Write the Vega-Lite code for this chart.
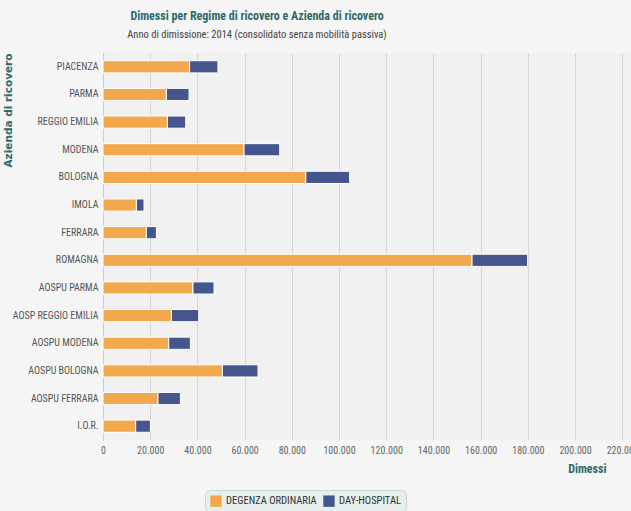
{
  "$schema": "https://vega.github.io/schema/vega-lite/v6.json",
  "autosize": {"type": "none"},
  "width": 528,
  "height": 387,
  "padding": {"left": 103, "top": 53, "right": 0, "bottom": 71},
  "background": "#f5f5f5",
  "title": {
    "text": "Dimessi per Regime di ricovero e Azienda di ricovero",
    "subtitle": "Anno di dimissione: 2014 (consolidato senza mobilità passiva)",
    "anchor": "middle",
    "frame": "group",
    "dx": -110,
    "offset": 12,
    "font": "Roboto Condensed, sans-serif",
    "fontSize": 12,
    "fontWeight": "bold",
    "color": "#2b6b6b",
    "subtitleFont": "Roboto Condensed, sans-serif",
    "subtitleFontSize": 10.5,
    "subtitleFontWeight": 400,
    "subtitleColor": "#444444",
    "subtitlePadding": 7
  },
  "data": {
    "values": [
      {"azienda": "PIACENZA", "regime": "DEGENZA ORDINARIA", "dimessi": 36700},
      {"azienda": "PIACENZA", "regime": "DAY-HOSPITAL", "dimessi": 12000},
      {"azienda": "PARMA", "regime": "DEGENZA ORDINARIA", "dimessi": 26850},
      {"azienda": "PARMA", "regime": "DAY-HOSPITAL", "dimessi": 9600},
      {"azienda": "REGGIO EMILIA", "regime": "DEGENZA ORDINARIA", "dimessi": 27300},
      {"azienda": "REGGIO EMILIA", "regime": "DAY-HOSPITAL", "dimessi": 7740},
      {"azienda": "MODENA", "regime": "DEGENZA ORDINARIA", "dimessi": 59750},
      {"azienda": "MODENA", "regime": "DAY-HOSPITAL", "dimessi": 15120},
      {"azienda": "BOLOGNA", "regime": "DEGENZA ORDINARIA", "dimessi": 85900},
      {"azienda": "BOLOGNA", "regime": "DAY-HOSPITAL", "dimessi": 18600},
      {"azienda": "IMOLA", "regime": "DEGENZA ORDINARIA", "dimessi": 14150},
      {"azienda": "IMOLA", "regime": "DAY-HOSPITAL", "dimessi": 3220},
      {"azienda": "FERRARA", "regime": "DEGENZA ORDINARIA", "dimessi": 18390},
      {"azienda": "FERRARA", "regime": "DAY-HOSPITAL", "dimessi": 4240},
      {"azienda": "ROMAGNA", "regime": "DEGENZA ORDINARIA", "dimessi": 156350},
      {"azienda": "ROMAGNA", "regime": "DAY-HOSPITAL", "dimessi": 23550},
      {"azienda": "AOSPU PARMA", "regime": "DEGENZA ORDINARIA", "dimessi": 38130},
      {"azienda": "AOSPU PARMA", "regime": "DAY-HOSPITAL", "dimessi": 8900},
      {"azienda": "AOSP REGGIO EMILIA", "regime": "DEGENZA ORDINARIA", "dimessi": 28980},
      {"azienda": "AOSP REGGIO EMILIA", "regime": "DAY-HOSPITAL", "dimessi": 11570},
      {"azienda": "AOSPU MODENA", "regime": "DEGENZA ORDINARIA", "dimessi": 27840},
      {"azienda": "AOSPU MODENA", "regime": "DAY-HOSPITAL", "dimessi": 9190},
      {"azienda": "AOSPU BOLOGNA", "regime": "DEGENZA ORDINARIA", "dimessi": 50590},
      {"azienda": "AOSPU BOLOGNA", "regime": "DAY-HOSPITAL", "dimessi": 15080},
      {"azienda": "AOSPU FERRARA", "regime": "DEGENZA ORDINARIA", "dimessi": 23300},
      {"azienda": "AOSPU FERRARA", "regime": "DAY-HOSPITAL", "dimessi": 9490},
      {"azienda": "I.O.R.", "regime": "DEGENZA ORDINARIA", "dimessi": 13850},
      {"azienda": "I.O.R.", "regime": "DAY-HOSPITAL", "dimessi": 6230}
    ]
  },
  "mark": {"type": "bar", "stroke": "#ffffff", "strokeWidth": 1},
  "encoding": {
    "y": {
      "field": "azienda",
      "type": "nominal",
      "sort": ["PIACENZA", "PARMA", "REGGIO EMILIA", "MODENA", "BOLOGNA", "IMOLA", "FERRARA", "ROMAGNA", "AOSPU PARMA", "AOSP REGGIO EMILIA", "AOSPU MODENA", "AOSPU BOLOGNA", "AOSPU FERRARA", "I.O.R."],
      "scale": {"paddingInner": 0.56, "paddingOuter": 0.28},
      "axis": {
        "title": "Azienda di ricovero",
        "titleAngle": -90,
        "titleX": -95,
        "titleY": 0,
        "titleAlign": "right",
        "titleBaseline": "middle",
        "titleFont": "DejaVu Sans, sans-serif",
        "titleFontSize": 10.5,
        "titleFontWeight": "bold",
        "titleColor": "#2b6b6b",
        "labelFont": "Roboto Condensed, sans-serif",
        "labelFontWeight": 400,
        "labelFontSize": 10,
        "labelColor": "#555555",
        "labelPadding": 5,
        "domainColor": "#c0d0e0",
        "ticks": false,
        "grid": false
      }
    },
    "x": {
      "field": "dimessi",
      "type": "quantitative",
      "stack": "zero",
      "scale": {"domain": [0, 223700], "nice": false},
      "axis": {
        "title": "Dimessi",
        "titleX": 503,
        "titleY": 32,
        "titleAlign": "right",
        "titleBaseline": "alphabetic",
        "titleFont": "Roboto Condensed, sans-serif",
        "titleFontSize": 12,
        "titleFontWeight": "bold",
        "titleColor": "#2b6b6b",
        "values": [0, 20000, 40000, 60000, 80000, 100000, 120000, 140000, 160000, 180000, 200000, 220000],
        "format": ",.0f",
        "labelFont": "Roboto Condensed, sans-serif",
        "labelFontSize": 10,
        "labelColor": "#666666",
        "labelPadding": 5,
        "labelFlush": false,
        "domain": false,
        "ticks": false,
        "grid": true,
        "gridColor": "#d4d4d4",
        "gridWidth": 1
      }
    },
    "color": {
      "field": "regime",
      "type": "nominal",
      "sort": ["DEGENZA ORDINARIA", "DAY-HOSPITAL"],
      "scale": {"domain": ["DEGENZA ORDINARIA", "DAY-HOSPITAL"], "range": ["#f2a84c", "#45568e"]},
      "legend": {
        "title": null,
        "orient": "none",
        "legendX": 102,
        "legendY": 437,
        "direction": "horizontal",
        "fillColor": "#e6eeee",
        "strokeColor": "#c9d6d6",
        "cornerRadius": 5,
        "padding": 5,
        "symbolType": "square",
        "symbolSize": 130,
        "symbolStrokeWidth": 0,
        "labelFont": "Roboto Condensed, sans-serif",
        "labelFontSize": 10.5,
        "labelFontWeight": 400,
        "labelColor": "#333333",
        "columnPadding": 6
      }
    },
    "order": {"field": "regime", "sort": "descending"},
    "tooltip": [
      {"field": "azienda", "type": "nominal"},
      {"field": "regime", "type": "nominal"},
      {"field": "dimessi", "type": "quantitative", "format": ",.0f"}
    ]
  },
  "config": {
    "locale": {"number": {"decimal": ",", "thousands": ".", "grouping": [3], "currency": ["", " €"]}},
    "view": {"stroke": null, "fill": "#f1f1f1"}
  }
}
